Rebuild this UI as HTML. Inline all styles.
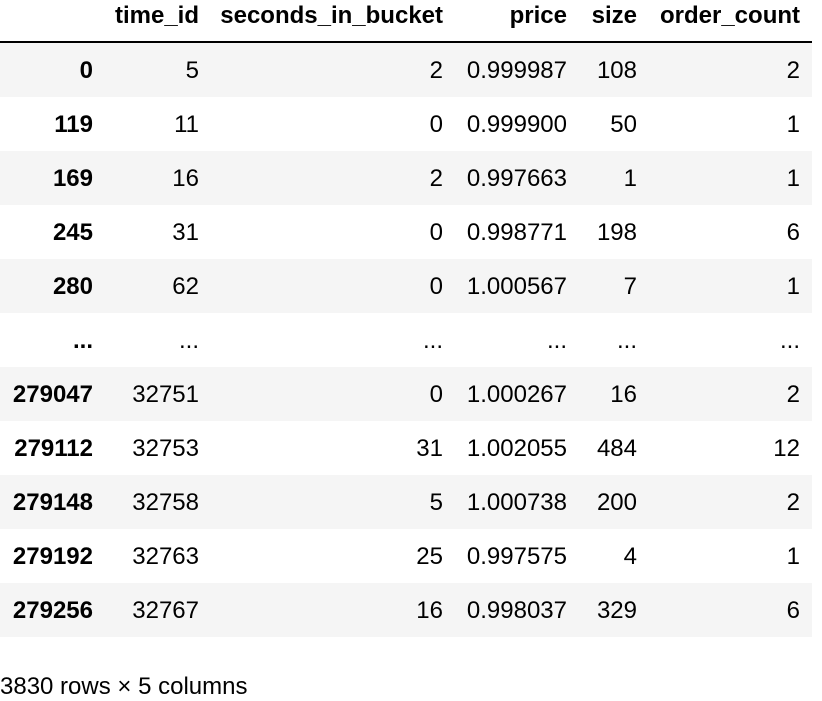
<!DOCTYPE html>
<html><head><meta charset="utf-8"><style>
body{margin:0;width:822px;height:700px;background:#fff;font-family:"Liberation Sans",Arial,sans-serif;font-size:24px;color:#000;position:relative;overflow:hidden}
.c{position:absolute;white-space:nowrap;line-height:28px}
.b{font-weight:bold}
.row{position:absolute;left:0;width:812px;height:54px}
.g{background:#f5f5f5}
</style></head><body>
<div id="t"></div>
<div class="c" style="left:0;top:673px">3830 rows × 5 columns</div>
<script>
const headers=["time_id","seconds_in_bucket","price","size","order_count"];
const index=["0","119","169","245","280","...","279047","279112","279148","279192","279256"];
const rows=[["5","2","0.999987","108","2"],["11","0","0.999900","50","1"],["16","2","0.997663","1","1"],["31","0","0.998771","198","6"],["62","0","1.000567","7","1"],["...","...","...","...","..."],["32751","0","1.000267","16","2"],["32753","31","1.002055","484","12"],["32758","5","1.000738","200","2"],["32763","25","0.997575","4","1"],["32767","16","0.998037","329","6"]];
const rights=[199,443,567,637,800];
const t=document.getElementById('t');
function cell(txt,right,top,bold,name){const d=document.createElement('div');d.className='c'+(bold?' b':'');d.textContent=txt;d.style.right=(822-right)+'px';d.style.top=top+'px';


t.appendChild(d);}
headers.forEach((h,j)=>cell(h,rights[j],2,true,'header-'+h.replace(/_/g,'-')));
const hr=document.createElement('div');hr.style.cssText='position:absolute;left:0;top:41px;width:812px;height:2px;background:#000';


t.appendChild(hr);
rows.forEach((r,i)=>{const top=43+54*i;const bg=document.createElement('div');bg.className='row'+(i%2==0?' g':'');bg.style.top=top+'px';


t.appendChild(bg);
cell(index[i],93,top+14,true,'row-index');
r.forEach((v,j)=>cell(v,rights[j],top+14,false,'cell-'+headers[j].replace(/_/g,'-')));});
</script>
</body></html>
